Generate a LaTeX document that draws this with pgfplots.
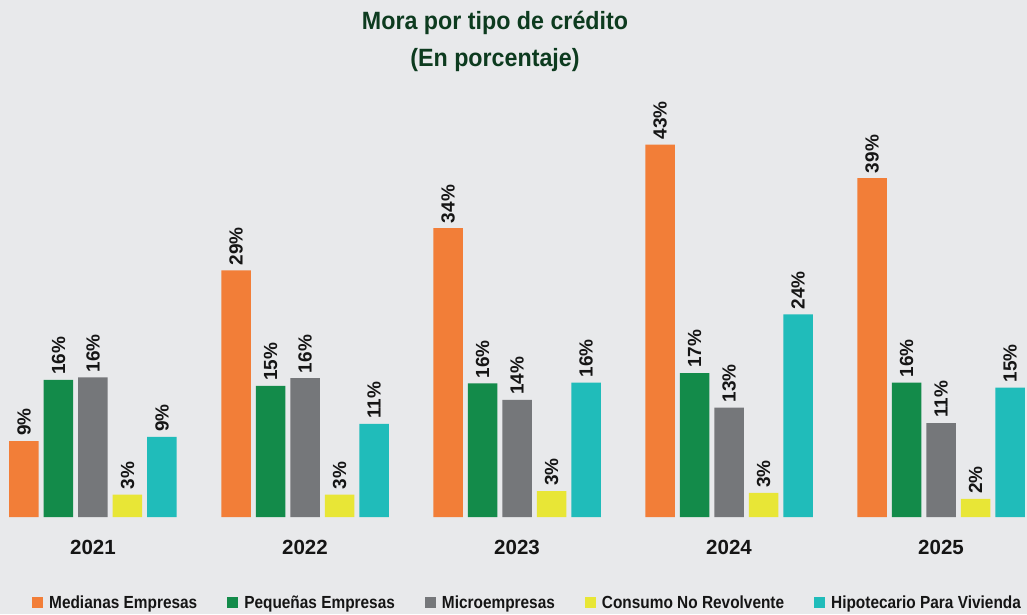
\documentclass[border=0pt]{standalone}
\usepackage{pgfplots}
\usepackage{pgfplotstable}
\pgfplotsset{compat=1.18}
\usepackage{fontspec}
\setmainfont{Liberation Sans}
\newfontfamily\titlefont{Liberation Sans}[FakeStretch=0.93]
\newfontfamily\legfont{Liberation Sans}[FakeStretch=0.88]

\definecolor{bgc}{HTML}{E8E9EB}
\definecolor{cmed}{HTML}{F27E38}
\definecolor{cpeq}{HTML}{138B4A}
\definecolor{cmic}{HTML}{75777A}
\definecolor{ccon}{HTML}{E8E636}
\definecolor{chip}{HTML}{20BCBA}
\definecolor{ctitle}{HTML}{0D3B1F}
\definecolor{ctxt}{HTML}{151515}

\pgfplotstableread{
x med peq mic con hip
0 8.8  15.9 16.2 2.6 9.3
1 28.6 15.2 16.1 2.6 10.8
2 33.5 15.5 13.6 3.0 15.6
3 43.2 16.7 12.7 2.8 23.5
4 39.3 15.6 10.9 2.1 15.0
}\datatable

\begin{document}
\begin{tikzpicture}
\fill[bgc] (0pt,0pt) rectangle (1027pt,614pt);
\node[anchor=base, text=ctitle, font=\titlefont\bfseries\fontsize{25}{30}\selectfont] at (495pt,584.7pt) {Mora por tipo de crédito};
\node[anchor=base, text=ctitle, font=\titlefont\bfseries\fontsize{25}{30}\selectfont] at (495pt,547.3pt) {(En porcentaje)};
\begin{axis}[
  at={(9.25pt,97pt)}, anchor=south west,
  scale only axis, width=1015.5pt, height=431pt,
  xmin=-0.395, xmax=4.395, ymin=0, ymax=50,
  enlargelimits=false, clip=false,
  axis line style={draw=none},
  hide y axis,
  ybar=5pt, bar width=29.5pt,
  xtick={0,1,2,3,4},
  xticklabels={2021,2022,2023,2024,2025},
  major tick length=0pt,
  xticklabel style={anchor=base, inner sep=0pt, yshift=-37pt, text=ctxt, font=\bfseries\fontsize{20.5}{24}\selectfont},
  /pgf/number format/assume math mode=true,
  nodes near coords={\pgfmathprintnumber[fixed,precision=0]{\pgfplotspointmeta}\%},
  every node near coord/.append style={rotate=90, anchor=west, inner xsep=5pt, inner ysep=0pt, text=ctxt, font=\bfseries\fontsize{19}{22}\selectfont},
  legend columns=5,
  legend style={at={(0.0224,-0.1995)}, anchor=west, draw=none, fill=none, inner sep=0pt,
    nodes={inner sep=0pt, text=ctxt, font=\legfont\bfseries\fontsize{17.5}{20}\selectfont},
    /tikz/every odd column/.append style={column sep=6pt},
    /tikz/every even column/.append style={column sep=30pt}},
  legend image code/.code={\fill[#1] (0pt,-5.5pt) rectangle (11pt,5.5pt);},
]
\addplot[fill=cmed, draw=none] table[x=x, y=med] {\datatable};
\addplot[fill=cpeq, draw=none] table[x=x, y=peq] {\datatable};
\addplot[fill=cmic, draw=none] table[x=x, y=mic] {\datatable};
\addplot[fill=ccon, draw=none] table[x=x, y=con] {\datatable};
\addplot[fill=chip, draw=none] table[x=x, y=hip] {\datatable};
\legend{Medianas Empresas, Pequeñas Empresas, Microempresas, Consumo No Revolvente, Hipotecario Para Vivienda}
\end{axis}
\end{tikzpicture}
\end{document}
